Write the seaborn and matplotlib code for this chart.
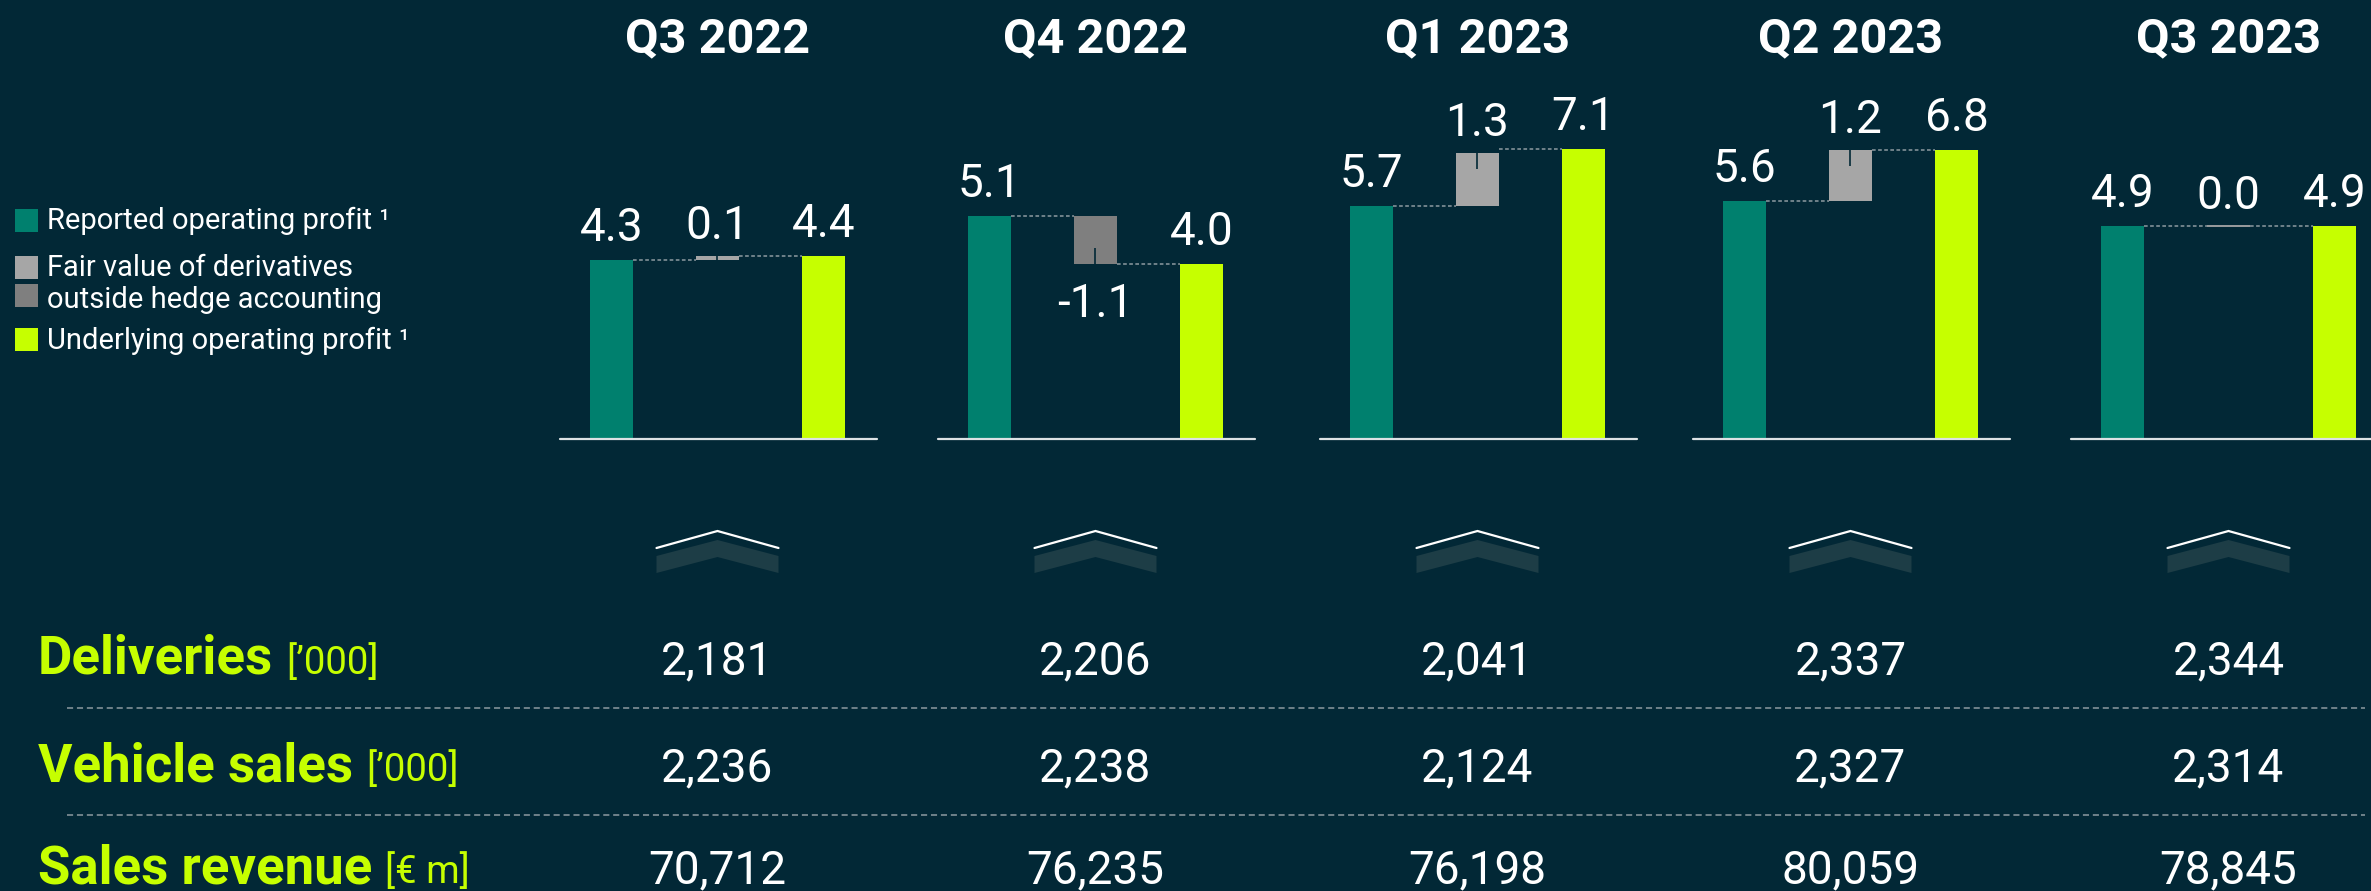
import matplotlib
matplotlib.use("Agg")
import matplotlib.pyplot as plt
from matplotlib.patches import Rectangle, Polygon
from matplotlib.lines import Line2D
from matplotlib.transforms import blended_transform_factory
import seaborn as sns
import pandas as pd

# ---- data -------------------------------------------------------------
quarters = ["Q3 2022", "Q4 2022", "Q1 2023", "Q2 2023", "Q3 2023"]
reported_profit = [4.3, 5.1, 5.7, 5.6, 4.9]
fair_value_effect = [0.1, -1.1, 1.3, 1.2, 0.0]
underlying_profit = [4.4, 4.0, 7.1, 6.8, 4.9]

row_titles = ["Deliveries", "Vehicle sales", "Sales revenue"]
row_units = ["[\u2019000]", "[\u2019000]", "[\u20ac m]"]
deliveries = [2181, 2206, 2041, 2337, 2344]
vehicle_sales = [2236, 2238, 2124, 2327, 2314]
sales_revenue = [70712, 76235, 76198, 80059, 78845]

legend_labels = ["Reported operating profit \u00b9",
                 "Fair value of derivatives",
                 "outside hedge accounting",
                 "Underlying operating profit \u00b9"]

# ---- style ------------------------------------------------------------
BG = "#022836"
TEAL = "#00806e"
LIME = "#c6ff00"
GRAY_POS = "#a6a6a6"
GRAY_NEG = "#7f7f7f"
DASH = "#8d9aa1"
CHEV = "#1d3d46"
WHITE = "#ffffff"

sns.set_theme(style="white")
plt.rcParams["font.family"] = ["Roboto", "DejaVu Sans"]

W, H = 2371, 891
fig = plt.figure(figsize=(W / 100, H / 100), dpi=100, facecolor=BG)


def fx(px):
    return px / W


def fy(py):
    return 1 - py / H


# panel geometry (pixels)
panel_left = [560, 938, 1320, 1693, 2071]
panel_w = 317
base_y = 439
top_y = 100
ylim_top = [8.15, 7.76, 8.31, 7.98, 7.79]
BAR_W = 0.406
components = ["Reported", "Fair value", "Underlying"]

label_kw = dict(color=WHITE, fontsize=33, fontweight="normal",
                ha="center", va="baseline")
PX = 0.72  # points per pixel at 100 dpi

axes = []
for i, q in enumerate(quarters):
    ax = fig.add_axes([fx(panel_left[i]), fy(base_y),
                       panel_w / W, (base_y - top_y) / H])
    ax.set_facecolor("none")
    rep, fv, und = reported_profit[i], fair_value_effect[i], underlying_profit[i]

    totals = pd.DataFrame({"component": ["Reported", "Underlying"],
                           "value": [rep, und]})
    sns.barplot(data=totals, x="component", y="value", order=components,
                hue="component", hue_order=["Reported", "Underlying"],
                palette=[TEAL, LIME], width=BAR_W, saturation=1,
                errorbar=None, legend=False, linewidth=0, ax=ax)

    # floating bridge bar
    if fv != 0:
        ax.bar(1, fv, bottom=rep, width=BAR_W,
               color=GRAY_POS if fv > 0 else GRAY_NEG, linewidth=0)
    else:
        ax.plot([1 - BAR_W / 2, 1 + BAR_W / 2], [rep, rep],
                color=GRAY_POS, lw=1.3, solid_capstyle="butt")

    # connectors
    ax.plot([BAR_W / 2, 1 - BAR_W / 2], [rep, rep], color=DASH, lw=1.1,
            ls=(0, (2.4, 1.6)))
    ax.plot([1 + BAR_W / 2, 2 - BAR_W / 2], [und, und], color=DASH, lw=1.1,
            ls=(0, (2.4, 1.6)))

    ax.set_xlim(-0.486, 2.505)
    ax.set_ylim(0, ylim_top[i])
    ppu = (base_y - top_y) / ylim_top[i]

    # small notch marking the end of the bridge bar
    if fv != 0:
        end = rep + fv
        n = min(16 / ppu, abs(fv))
        y2 = end - n if fv > 0 else end + n
        ax.plot([1, 1], [end, y2], color=BG, lw=1.2, solid_capstyle="butt")

    ax.axhline(0, color="#dde2e4", lw=1.6, clip_on=False, zorder=5)

    # value labels
    ax.annotate(f"{rep:.1f}", (0, rep), xytext=(0, 19 * PX),
                textcoords="offset points", **label_kw)
    ax.annotate(f"{und:.1f}", (2, und), xytext=(0, 19 * PX),
                textcoords="offset points", **label_kw)
    if fv >= 0:
        ax.annotate(f"{fv:.1f}", (1, rep + fv), xytext=(0, 17 * PX),
                    textcoords="offset points", **label_kw)
    else:
        ax.annotate(f"{fv:.1f}", (1, rep + fv), xytext=(0, -53 * PX),
                    textcoords="offset points", **label_kw)

    ax.axis("off")

    # quarter heading
    tr = blended_transform_factory(ax.transData, fig.transFigure)
    ax.text(1, fy(52), q, transform=tr, ha="center", va="baseline",
            color=WHITE, fontsize=35, fontweight="bold")
    axes.append(ax)

# ---- legend -------------------------------------------------------------
legend_boxes = [(209, TEAL), (256, GRAY_POS), (284, GRAY_NEG), (328, LIME)]
for top, col in legend_boxes:
    fig.add_artist(Rectangle((fx(15), fy(top + 23)), 23 / W, 23 / H,
                             transform=fig.transFigure, color=col, lw=0))
for text, base in zip(legend_labels, [229, 276, 308, 349]):
    fig.text(fx(47), fy(base), text, color=WHITE, fontsize=21,
             ha="left", va="baseline")

# ---- KPI table ----------------------------------------------------------
fig.canvas.draw()
renderer = fig.canvas.get_renderer()

centers = [ax.transData.transform((1, 0))[0] for ax in axes]

# chevrons
for cx in centers:
    band = [(cx - 61, 556), (cx, 540), (cx + 61, 556),
            (cx + 61, 573), (cx, 557), (cx - 61, 573)]
    fig.add_artist(Polygon([(fx(x), fy(y)) for x, y in band],
                           closed=True, transform=fig.transFigure,
                           color=CHEV, lw=0))
    fig.add_artist(Line2D([fx(cx - 61), fx(cx), fx(cx + 61)],
                          [fy(548), fy(531), fy(548)],
                          transform=fig.transFigure, color=WHITE, lw=1.6,
                          solid_joinstyle="miter"))

rows = [deliveries, vehicle_sales, sales_revenue]
row_base = [674, 781, 883]
for title, unit, values, base in zip(row_titles, row_units, rows, row_base):
    t = fig.text(fx(38), fy(base), title, color=LIME, fontsize=38,
                 fontweight="bold", ha="left", va="baseline")
    bb = t.get_window_extent(renderer=renderer)
    fig.text(fx(bb.x1 + 13), fy(base), unit, color=LIME, fontsize=27.5,
             fontweight="normal", ha="left", va="baseline")
    for cx, v in zip(centers, values):
        fig.text(fx(cx), fy(base), f"{v:,}", color=WHITE, fontsize=33,
                 fontweight="normal", ha="center", va="baseline")

for sep_y in [708, 815]:
    fig.add_artist(Line2D([fx(67), fx(2365)], [fy(sep_y), fy(sep_y)],
                          transform=fig.transFigure, color=DASH, lw=1.1,
                          ls=(0, (4, 2.5))))

fig.savefig("out.png", dpi=100, facecolor=BG)
